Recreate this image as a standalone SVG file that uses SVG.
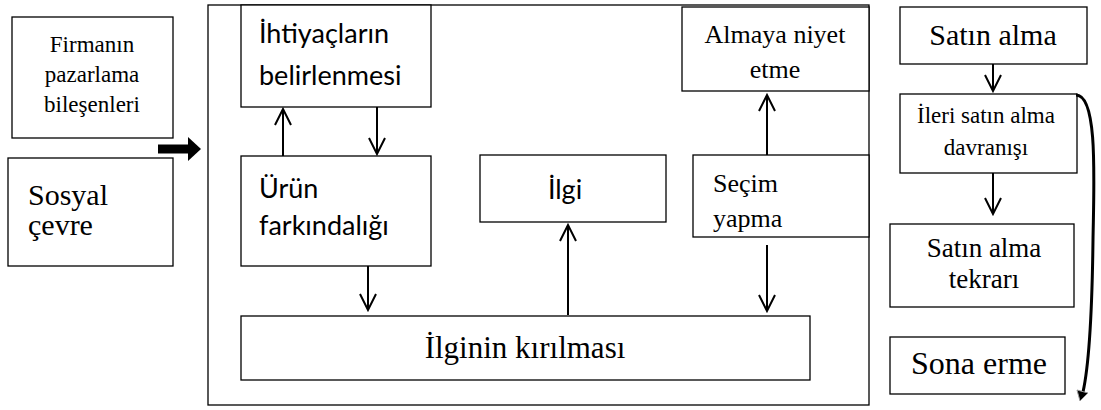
<svg xmlns="http://www.w3.org/2000/svg" width="1101" height="410" viewBox="0 0 1101 410">
<defs>
<style>
.box{fill:#fff;stroke:#000;stroke-width:1.3}
.frame{fill:none;stroke:#000;stroke-width:1.3}
.conn{fill:none;stroke:#000;stroke-width:2}
.tm{font-family:"Liberation Serif","Times New Roman","DejaVu Serif",serif;fill:#000}
.sn{font-family:Lato,"Open Sans","Noto Sans",sans-serif;fill:#000}
</style>
<marker id="ah" viewBox="0 0 20 20" refX="18" refY="10" markerWidth="20" markerHeight="20" markerUnits="userSpaceOnUse" orient="auto">
<path d="M2,2 L18,10 L2,18" fill="none" stroke="#000" stroke-width="2"/>
</marker>
</defs>
<rect id="frame" class="frame" x="208" y="5" width="661" height="400"/>
<g id="firma"><rect class="box" x="12" y="17" width="161" height="121"/>
<text class="tm" x="92" y="52" font-size="23" text-anchor="middle">Firmanın</text>
<text class="tm" x="92" y="82" font-size="23" text-anchor="middle">pazarlama</text>
<text class="tm" x="92" y="112" font-size="23" text-anchor="middle">bileşenleri</text></g>
<g id="sosyal"><rect class="box" x="8" y="158" width="165" height="108"/>
<text class="tm" x="28" y="205" font-size="30">Sosyal</text>
<text class="tm" x="28" y="235" font-size="30">çevre</text></g>
<g id="ihtiyac"><rect class="box" x="241" y="5" width="190" height="102"/>
<text class="sn" x="259" y="43" font-size="27">İhtiyaçların</text>
<text class="sn" x="259" y="85" font-size="27">belirlenmesi</text></g>
<g id="urun"><rect class="box" x="241" y="156" width="190" height="110"/>
<text class="sn" x="259" y="198" font-size="27">Ürün</text>
<text class="sn" x="259" y="235" font-size="27">farkındalığı</text></g>
<g id="ilgi"><rect class="box" x="480" y="155" width="186" height="67"/>
<text class="sn" x="565" y="199" font-size="27" text-anchor="middle">İlgi</text></g>
<g id="almaya"><rect class="box" x="682" y="7" width="187" height="84"/>
<text class="tm" x="775" y="43" font-size="26" text-anchor="middle">Almaya niyet</text>
<text class="tm" x="775" y="78" font-size="26" text-anchor="middle">etme</text></g>
<g id="secim"><rect class="box" x="693" y="155" width="176" height="82"/>
<text class="tm" x="713" y="192" font-size="26">Seçim</text>
<text class="tm" x="713" y="227" font-size="26">yapma</text></g>
<g id="kirilma"><rect class="box" x="241" y="316" width="569" height="64"/>
<text class="tm" x="525" y="358" font-size="31" text-anchor="middle">İlginin kırılması</text></g>
<g id="satin"><rect class="box" x="900" y="7" width="187" height="57"/>
<text class="tm" x="993" y="45" font-size="30" text-anchor="middle">Satın alma</text></g>
<g id="ileri"><rect class="box" x="900" y="94" width="177" height="79"/>
<text class="tm" x="986" y="123" font-size="23" text-anchor="middle">İleri satın alma</text>
<text class="tm" x="986" y="155" font-size="23" text-anchor="middle">davranışı</text></g>
<g id="tekrar"><rect class="box" x="890" y="224" width="184" height="83"/>
<text class="tm" x="984" y="257" font-size="27" text-anchor="middle">Satın alma</text>
<text class="tm" x="984" y="288" font-size="27" text-anchor="middle">tekrarı</text></g>
<g id="sona"><rect class="box" x="890" y="337" width="175" height="57"/>
<text class="tm" x="979" y="374" font-size="32" text-anchor="middle">Sona erme</text></g>
<g id="connectors">
<path d="M158,149 H190" stroke="#000" stroke-width="9" fill="none"/>
<path d="M188,137 L201,149 L188,161 Z" fill="#000"/>
<path class="conn" d="M283,156 V109" marker-end="url(#ah)"/>
<path class="conn" d="M377,107 V154" marker-end="url(#ah)"/>
<path class="conn" d="M368,266 V310" marker-end="url(#ah)"/>
<path class="conn" d="M568,315 V225" marker-end="url(#ah)"/>
<path class="conn" d="M767,155 V95" marker-end="url(#ah)"/>
<path class="conn" d="M767,245 V311" marker-end="url(#ah)"/>
<path class="conn" d="M993,64 V91" marker-end="url(#ah)"/>
<path class="conn" d="M993,173 V214" marker-end="url(#ah)"/>
<path d="M1076,95 C1098,95 1094,180 1093,240 C1092,320 1089,365 1083,392" fill="none" stroke="#000" stroke-width="3"/>
<path d="M1077,390 L1080,401 L1088,393 Z" fill="#000" stroke="#999" stroke-width="1"/>
</g>
</svg>
